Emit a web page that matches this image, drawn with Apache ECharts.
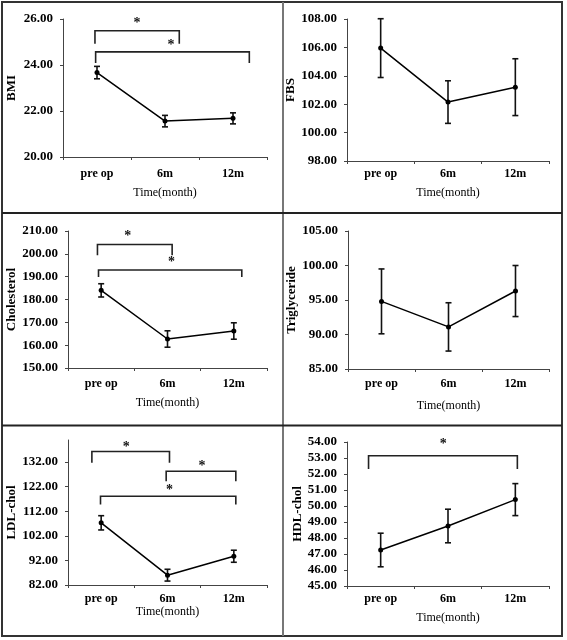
<!DOCTYPE html>
<html><head><meta charset="utf-8">
<script src="https://cdn.jsdelivr.net/npm/echarts@6/dist/echarts.min.js"></script>
<style>html,body{margin:0;padding:0;background:#fff}#c{width:567px;height:640px}</style>
</head><body><div id="c"></div>
<script>
const categories = ['pre op', '6m', '12m'];
const xTitle = 'Time(month)';

const bmiMean = [23.67, 21.56, 21.68];
const bmiErr = [0.27, 0.25, 0.24];
const bmiTicks = [20, 22, 24, 26];
const bmiBrackets = [[-0.03, 1.21, 25.49, 24.92], [-0.02, 2.24, 24.57, 24.09]];
const bmiStars = [[0.59, 25.93], [1.09, 24.97]];

const fbsMean = [105.95, 102.15, 103.2];
const fbsErr = [2.07, 1.5, 2.0];
const fbsTicks = [98, 100, 102, 104, 106, 108];

const cholMean = [184.0, 162.7, 166.2];
const cholErr = [2.9, 3.6, 3.6];
const cholTicks = [150, 160, 170, 180, 190, 200, 210];
const cholBrackets = [[-0.056, 1.07, 204.1, 199.4], [-0.04, 2.12, 192.9, 189.9]];
const cholStars = [[0.40, 209.1], [1.06, 197.5]];

const trigMean = [94.8, 91.1, 96.3];
const trigErr = [4.7, 3.5, 3.7];
const trigTicks = [85, 90, 95, 100, 105];

const ldlMean = [107.3, 86.0, 93.7];
const ldlErr = [2.9, 2.4, 2.45];
const ldlTicks = [82, 92, 102, 112, 122, 132];
const ldlMax = 141;
const ldlBrackets = [[-0.14, 1.03, 136.3, 131.7], [0.98, 2.03, 128.3, 124.2], [-0.01, 2.03, 118.1, 114.8]];
const ldlStars = [[0.38, 139.2], [1.52, 131.6], [1.03, 121.6]];

const hdlMean = [47.25, 48.75, 50.4];
const hdlErr = [1.05, 1.05, 1.0];
const hdlTicks = [45, 46, 47, 48, 49, 50, 51, 52, 53, 54];
const hdlBrackets = [[-0.18, 2.03, 53.14, 52.31]];
const hdlStars = [[0.93, 54.04]];

const panels = [
  {name: 'BMI', mean: bmiMean, err: bmiErr, ticks: bmiTicks, br: bmiBrackets, st: bmiStars,
   grid: {left: 63, top: 19, width: 204, height: 138}, yGap: 45, xGap: 30, lm: 11},
  {name: 'FBS', mean: fbsMean, err: fbsErr, ticks: fbsTicks, br: [], st: [],
   grid: {left: 347, top: 19, width: 202, height: 142}, yGap: 45, xGap: 26, lm: 7},
  {name: 'Cholesterol', mean: cholMean, err: cholErr, ticks: cholTicks, br: cholBrackets, st: cholStars,
   grid: {left: 68, top: 231, width: 199, height: 137}, yGap: 49, xGap: 29, lm: 10},
  {name: 'Triglyceride', mean: trigMean, err: trigErr, ticks: trigTicks, br: [], st: [],
   grid: {left: 348, top: 231, width: 201, height: 138}, yGap: 49, xGap: 31, lm: 9},
  {name: 'LDL-chol', mean: ldlMean, err: ldlErr, ticks: ldlTicks, max: ldlMax, br: ldlBrackets, st: ldlStars,
   grid: {left: 68, top: 440, width: 199, height: 145}, yGap: 48, xGap: 21, lm: 8},
  {name: 'HDL-chol', mean: hdlMean, err: hdlErr, ticks: hdlTicks, br: hdlBrackets, st: hdlStars,
   grid: {left: 347, top: 442, width: 202, height: 144}, yGap: 43, xGap: 26, lm: 7}
];

const FONT = '"Liberation Serif", "Times New Roman", serif';
const axisCol = '#444';
const grids = [], xAxes = [], yAxes = [], series = [];

panels.forEach((p, i) => {
  grids.push(Object.assign({}, p.grid));
  xAxes.push({
    type: 'category', gridIndex: i, data: categories, boundaryGap: true,
    name: xTitle, nameLocation: 'middle', nameGap: p.xGap,
    nameTextStyle: {fontFamily: FONT, fontSize: 12, color: '#000'},
    axisLine: {lineStyle: {color: axisCol, width: 1}},
    axisTick: {show: true, length: 3, lineStyle: {color: axisCol}},
    axisLabel: {fontFamily: FONT, fontWeight: 'bold', fontSize: 12, color: '#000', margin: p.lm},
    splitLine: {show: false}
  });
  yAxes.push({
    type: 'value', gridIndex: i, min: p.ticks[0], max: p.max !== undefined ? p.max : p.ticks[p.ticks.length - 1],
    name: p.name, nameLocation: 'middle', nameGap: p.yGap,
    nameTextStyle: {fontFamily: FONT, fontWeight: 'bold', fontSize: 13, color: '#000'},
    axisLine: {show: true, lineStyle: {color: axisCol, width: 1}},
    axisTick: {show: true, length: 3, customValues: p.ticks, lineStyle: {color: axisCol}},
    axisLabel: {customValues: p.ticks, fontFamily: FONT, fontWeight: 'bold', fontSize: 13, color: '#000', margin: 10,
      formatter: v => Number(v).toFixed(2)},
    splitLine: {show: false}
  });
  series.push({
    type: 'custom', xAxisIndex: i, yAxisIndex: i, z: 3,
    data: p.mean.map((m, k) => [k, m - p.err[k], m + p.err[k]]),
    renderItem: (params, api) => {
      const lo = api.coord([api.value(0), api.value(1)]);
      const hi = api.coord([api.value(0), api.value(2)]);
      const w = 3;
      const st = {stroke: '#111', lineWidth: 1.6};
      return {type: 'group', children: [
        {type: 'line', shape: {x1: lo[0], y1: lo[1], x2: hi[0], y2: hi[1]}, style: st},
        {type: 'line', shape: {x1: lo[0] - w, y1: lo[1], x2: lo[0] + w, y2: lo[1]}, style: st},
        {type: 'line', shape: {x1: hi[0] - w, y1: hi[1], x2: hi[0] + w, y2: hi[1]}, style: st}
      ]};
    }
  });
  series.push({
    type: 'line', xAxisIndex: i, yAxisIndex: i, z: 4, data: p.mean,
    symbol: 'circle', symbolSize: 5, itemStyle: {color: '#000'},
    lineStyle: {color: '#000', width: 1.5}, silent: true
  });
  if (p.br.length) {
    series.push({
      type: 'custom', xAxisIndex: i, yAxisIndex: i, z: 5, clip: false,
      data: p.br,
      renderItem: (params, api) => {
        const c0 = api.coord([0, api.value(2)]);
        const c1 = api.coord([1, api.value(2)]);
        const band = c1[0] - c0[0];
        const xa = c0[0] + api.value(0) * band;
        const xb = c0[0] + api.value(1) * band;
        const yt = c0[1];
        const yb = api.coord([0, api.value(3)])[1];
        return {type: 'polyline', shape: {points: [[xa, yb], [xa, yt], [xb, yt], [xb, yb]]},
          style: {stroke: '#222', lineWidth: 1.6, fill: null}};
      }
    });
    series.push({
      type: 'custom', xAxisIndex: i, yAxisIndex: i, z: 5, clip: false,
      data: p.st,
      renderItem: (params, api) => {
        const c0 = api.coord([0, api.value(1)]);
        const c1 = api.coord([1, api.value(1)]);
        const x = c0[0] + api.value(0) * (c1[0] - c0[0]);
        return {type: 'text', x: x, y: c0[1] + 3,
          style: {text: '*', fontFamily: FONT, fontWeight: 'bold', fontSize: 14, fill: '#111',
            align: 'center', verticalAlign: 'middle'}};
      }
    });
  }
});

const chart = echarts.init(document.getElementById('c'), null, {renderer: 'canvas'});
chart.setOption({
  backgroundColor: '#fff',
  animation: false,
  grid: grids, xAxis: xAxes, yAxis: yAxes, series: series,
  graphic: [
    {type: 'rect', shape: {x: 2, y: 2, width: 560, height: 634}, style: {stroke: '#333', lineWidth: 2, fill: null}, z: 10},
    {type: 'line', shape: {x1: 283, y1: 2, x2: 283, y2: 636}, style: {stroke: '#777', lineWidth: 2}, z: 10},
    {type: 'line', shape: {x1: 2, y1: 213, x2: 562, y2: 213}, style: {stroke: '#222', lineWidth: 2}, z: 10},
    {type: 'line', shape: {x1: 2, y1: 425.5, x2: 562, y2: 425.5}, style: {stroke: '#222', lineWidth: 2}, z: 10}
  ]
});
</script></body></html>
